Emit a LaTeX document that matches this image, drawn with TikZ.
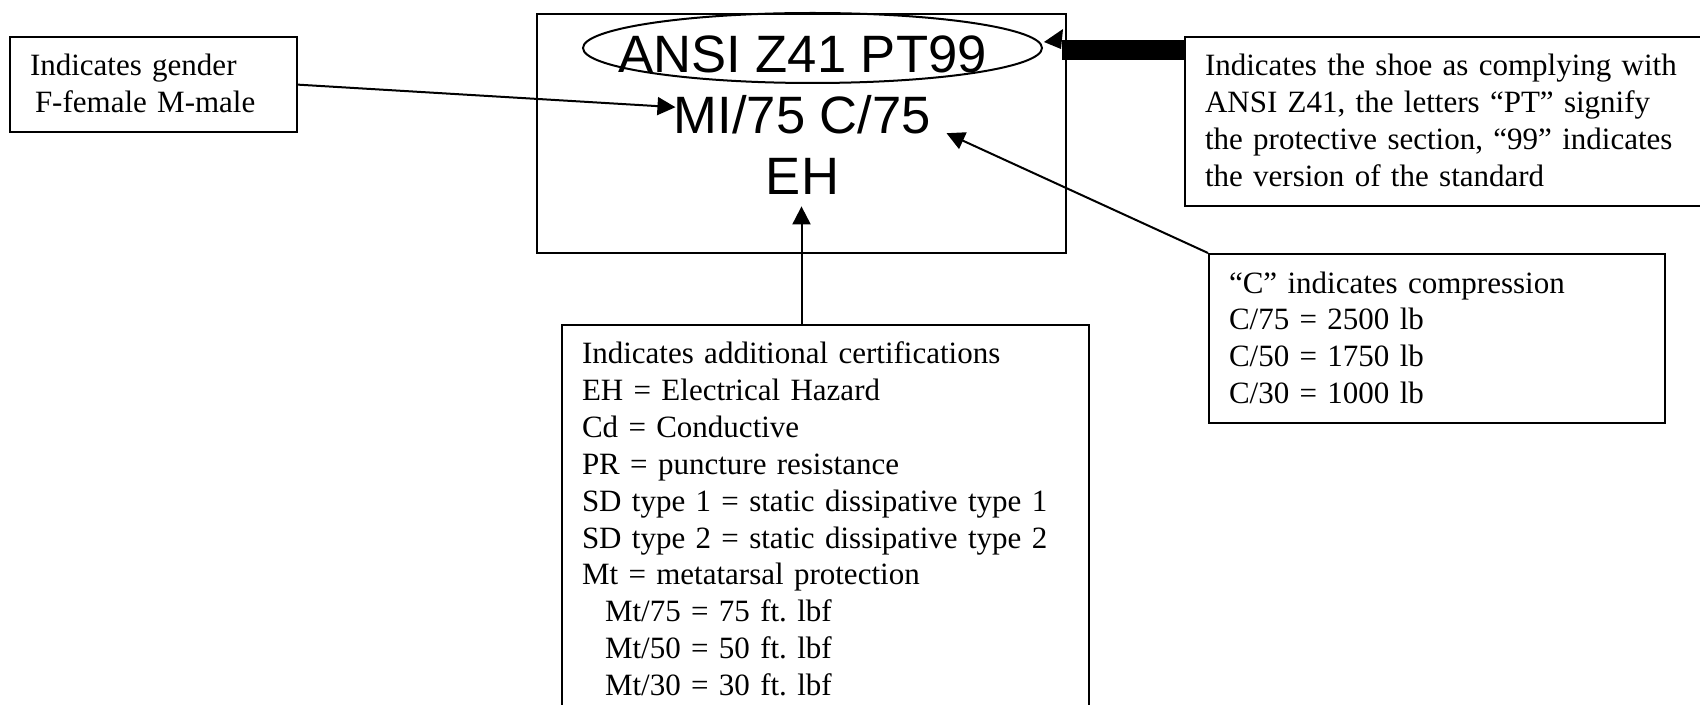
\documentclass[tikz,border=0pt]{standalone}
\usepackage{fontspec}
\setmainfont{Liberation Serif}
\newfontfamily\arialfont{Liberation Sans}
\usetikzlibrary{positioning,calc,shapes.geometric,arrows.meta}
\newcommand{\topgap}{\rule{0pt}{14.5pt}}
\newcommand{\botgap}{\rule[-4.75pt]{0pt}{4.75pt}}
\tikzset{
  note/.style={draw, line width=1pt, anchor=north west, align=left, inner xsep=10pt, inner ysep=5pt, font=\fontsize{15.5}{18.4}\selectfont},
  stamp/.style={anchor=base, inner sep=0pt, font=\arialfont\fontsize{26.3}{30}\selectfont},
  pointer/.style={line width=1pt, -{Triangle[length=9pt,width=9pt]}},
  fat/.style={line width=10pt}
}

\begin{document}
\begin{tikzpicture}[x=0.5pt, y=-0.5pt]
  % Page frame
  \useasboundingbox (0,0) rectangle (1700,705);
  \clip (0,0) rectangle (1700,705);

  % Marking on the shoe
  \node[draw, line width=1pt, anchor=north west, minimum width=264.5pt, minimum height=119.5pt] (mark) at (536,13) {};
  \node[draw, line width=1pt, ellipse, minimum width=229.5pt, minimum height=35pt, inner sep=0pt] (ring) at (812.5,48) {};
  \node[stamp] (ansi) at (802.5,73) {ANSI Z41 PT99};
  \node[stamp] (mi) at (802.5,134) {MI/75 C/75};
  \node[stamp] (eh) at (802.5,195) {EH};

  % Notes
  \node[note, text width=123.5pt] (lbox) at (9,36) {\topgap Indicates gender\\
    \hspace*{2.5pt}F-female M-male\botgap};
  \node[note, text width=250pt] (rbox) at (1184,36) {\topgap Indicates the shoe as complying with\\
    ANSI Z41, the letters “PT” signify\\
    the protective section, “99” indicates\\
    the version of the standard\botgap};
  \node[note, text width=208pt] (cbox) at (1208,253) {\topgap “C” indicates compression\\
    C/75 = 2500 lb\\
    C/50 = 1750 lb\\
    C/30 = 1000 lb\botgap};
  \node[note, text width=243.5pt] (bbox) at (561,324) {\topgap Indicates additional certifications\\
    EH = Electrical Hazard\\
    Cd = Conductive\\
    PR = puncture resistance\\
    SD type 1 = static dissipative type 1\\
    SD type 2 = static dissipative type 2\\
    Mt = metatarsal protection\\
    \hspace*{11.5pt}Mt/75 = 75 ft.\ lbf\\
    \hspace*{11.5pt}Mt/50 = 50 ft.\ lbf\\
    \hspace*{11.5pt}Mt/30 = 30 ft.\ lbf\botgap};

  % Arrows
  \coordinate (mitip) at ($(mi.west)+(2,-8)$);
  \coordinate (ctip) at ($(mi.east)+(15,18)$);
  \coordinate (ehtip) at ($(eh.south)+(-1,11)$);
  \coordinate (bend) at (1062,50);
  \draw[pointer] (lbox.east) -- (mitip);
  \draw[pointer] (cbox.north west) -- (ctip);
  \draw[pointer] (ehtip |- bbox.north) -- (ehtip);
  \draw[fat] (rbox.west |- bend) -- (bend);
  \fill (1044,42) -- (1063,29) -- (1061,49) -- cycle;
\end{tikzpicture}
\end{document}
